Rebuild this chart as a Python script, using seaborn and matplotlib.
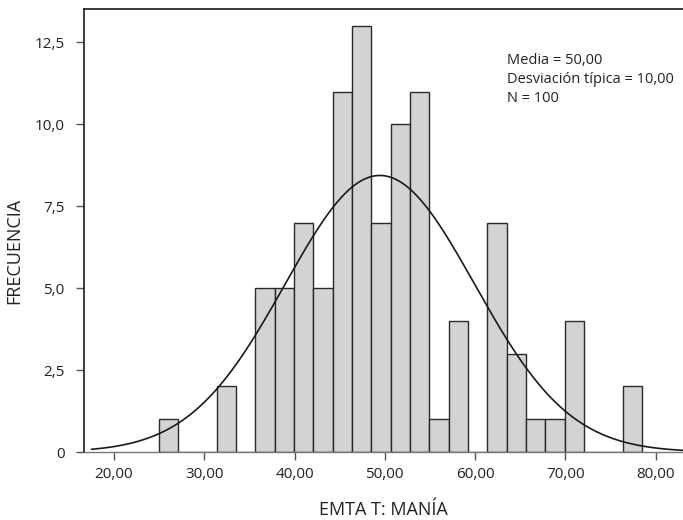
import numpy as np
import pandas as pd
import matplotlib
matplotlib.use("Agg")
import matplotlib.pyplot as plt
import seaborn as sns

# ---- data ----
bin_start = 24.95
bin_width = 2.142
counts = [1, 0, 0, 2, 0, 5, 5, 7, 5, 11, 13, 7, 10, 11, 1, 4, 0, 7, 3, 1, 1, 4, 0, 0, 2]
x_ticks = [20, 30, 40, 50, 60, 70, 80]
x_tick_labels = ["20,00", "30,00", "40,00", "50,00", "60,00", "70,00", "80,00"]
y_ticks = [0, 2.5, 5.0, 7.5, 10.0, 12.5]
y_tick_labels = ["0", "2,5", "5,0", "7,5", "10,0", "12,5"]
stats_lines = ["Media = 50,00", "Desviación típica = 10,00", "N = 100"]
# fitted normal curve as drawn
curve_mean = 49.45
curve_sd = 10.5
curve_peak = 8.44
curve_from, curve_to = 17.5, 83.1

edges = [float(e) for e in bin_start + bin_width * np.arange(len(counts) + 1)]
centers = [(a + b) / 2 for a, b in zip(edges[:-1], edges[1:])]
df = pd.DataFrame({"valor": centers, "n": counts})

xs = np.linspace(curve_from, curve_to, 400)
ys = curve_peak * np.exp(-0.5 * ((xs - curve_mean) / curve_sd) ** 2)

sns.set_style("white")
plt.rcParams["font.family"] = ["Open Sans", "DejaVu Sans"]

fig = plt.figure(figsize=(6.83, 5.20), dpi=100)
ax = fig.add_axes([84 / 683, 68 / 520, 599 / 683, 443 / 520])

sns.histplot(data=df, x="valor", weights="n", bins=edges, ax=ax,
             color="#d2d3d5", edgecolor="#2a2a2a", linewidth=1.0, alpha=1.0)
sns.lineplot(x=xs, y=ys, ax=ax, color="#1a1a1a", linewidth=1.2)

ax.set_xlim(16.68, 83.03)
ax.set_ylim(0, 13.52)

ax.set_xticks(x_ticks)
ax.set_xticklabels(x_tick_labels)
ax.set_yticks(y_ticks)
ax.set_yticklabels(y_tick_labels)

ax.tick_params(axis="y", direction="out", length=6, width=1.0, color="#555555",
               pad=8, labelsize=11, labelcolor="#222222", left=True)
ax.tick_params(axis="x", direction="out", length=6, width=1.0, color="#555555",
               pad=5, labelsize=11, labelcolor="#222222", bottom=True)

for side in ["left", "top"]:
    ax.spines[side].set_color("#1a1a1a")
    ax.spines[side].set_linewidth(1.2)
ax.spines["bottom"].set_color("#777777")
ax.spines["bottom"].set_linewidth(1.0)
ax.spines["right"].set_visible(False)

ax.set_xlabel("EMTA T: MANÍA", fontsize=13, color="#222222")
ax.set_ylabel("FRECUENCIA", fontsize=13, color="#222222")
ax.xaxis.set_label_coords(0.5, -0.11)
ax.yaxis.set_label_coords(-0.101, 0.454)

baselines = [0.876, 0.832, 0.791]
for line, yb in zip(stats_lines, baselines):
    ax.text(0.706, yb, line, transform=ax.transAxes, fontsize=10.5,
            color="#222222", ha="left", va="baseline")

fig.savefig("out.png", dpi=100)
